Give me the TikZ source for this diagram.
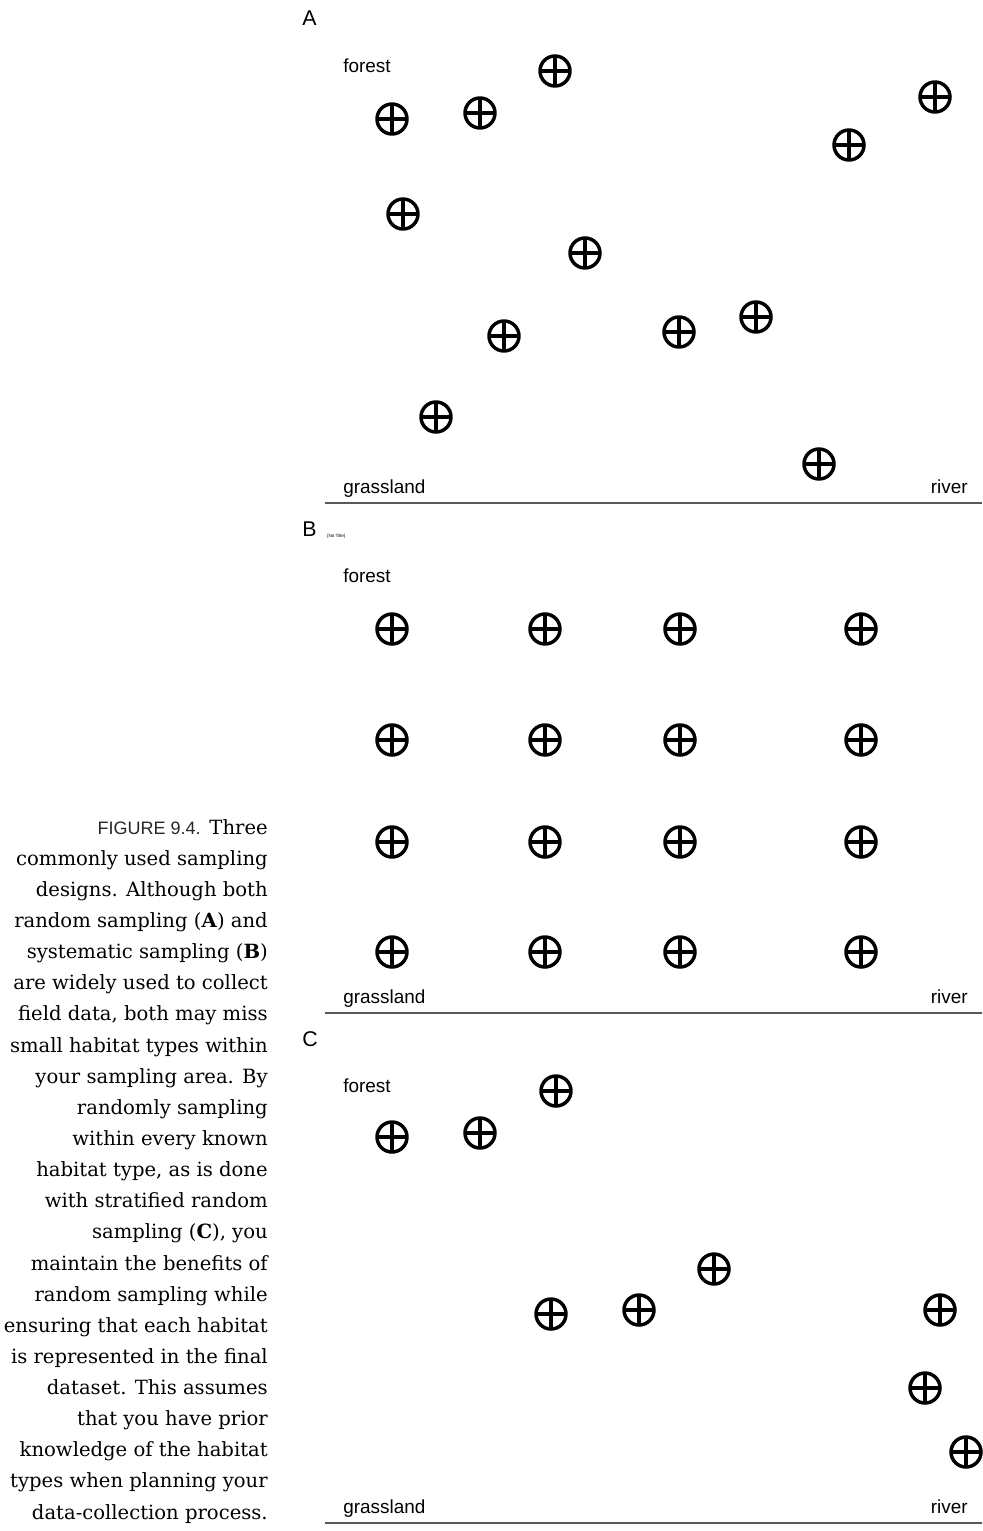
\documentclass[tikz,border=0pt]{standalone}
\usepackage{fontspec}
\setmainfont{DejaVu Serif}
\newfontfamily\labelfont{Liberation Sans}

\begin{document}
\begin{tikzpicture}[
    x=0.75pt, y=-0.75pt,
    every node/.style={inner sep=0pt},
    samplept/.style={
        circle,
        draw,
        line width=2.6pt,
        minimum size=22.5pt,
        path picture={
            \draw[line width=2.5pt]
                (path picture bounding box.north) -- (path picture bounding box.south)
                (path picture bounding box.west) -- (path picture bounding box.east);
        }
    },
    habitat/.style={font=\labelfont\fontsize{14.2}{16}\selectfont},
    panel/.style={font=\labelfont\fontsize{16}{18}\selectfont},
    groundline/.style={draw=black!65, line width=1.1pt},
    caption/.style={align=right, font=\fontsize{14.7}{23.35}\selectfont}
]
\useasboundingbox (0,0) rectangle (982,1531);

% panel frames
\foreach \pname/\dy in {A/0, B/510, C/1020} {
    \node[panel, anchor=base west] (lbl\pname) at (302, 26+\dy) {\pname};
    \node[habitat, anchor=base west] (forest\pname) at (343, 72+\dy) {forest};
    \node[habitat, anchor=base west] (grass\pname) at (343, 493+\dy) {grassland};
    \node[habitat, anchor=base east] (river\pname) at (968, 493+\dy) {river};
    \draw[groundline] (325, 503+\dy) -- (982, 503+\dy);
}
\node[font=\labelfont\fontsize{3.4}{4}\selectfont, anchor=base west] (notitle) at (327, 537) {[No Title]};

% A: random sampling
\foreach \i/\px/\py in {1/555/71, 2/392/119, 3/480/113, 4/935/97, 5/849/145,
                        6/403/214, 7/585/253, 8/504/336, 9/679/332, 10/756/317,
                        11/436/417, 12/819/464}
    \node[samplept] (ra\i) at (\px, \py) {};

% B: systematic sampling
\foreach \px [count=\c] in {392, 545, 680, 861}
    \foreach \py [count=\r] in {629, 740, 842, 952}
        \node[samplept] (sb\c\r) at (\px, \py) {};

% C: stratified random sampling
\foreach \i/\px/\py in {1/556/1091, 2/392/1137, 3/480/1133, 4/714/1269,
                        5/551/1314, 6/639/1310, 7/940/1310, 8/925/1388,
                        9/966/1452}
    \node[samplept] (sc\i) at (\px, \py) {};

% caption
\node[caption, anchor=north east] (caption) at (268, 819) {%
    {\labelfont\fontsize{13.5}{15}\selectfont\color{black!85}FIGURE 9.4.}\hspace{0.45em}Three\\
    commonly used sampling\\
    designs. Although both\\
    random sampling (\textbf{A}) and\\
    systematic sampling (\textbf{B})\\
    are widely used to collect\\
    field data, both may miss\\
    small habitat types within\\
    your sampling area. By\\
    randomly sampling\\
    within every known\\
    habitat type, as is done\\
    with stratified random\\
    sampling (\textbf{C}), you\\
    maintain the benefits of\\
    random sampling while\\
    ensuring that each habitat\\
    is represented in the final\\
    dataset. This assumes\\
    that you have prior\\
    knowledge of the habitat\\
    types when planning your\\
    data-collection process.};
\end{tikzpicture}
\end{document}
